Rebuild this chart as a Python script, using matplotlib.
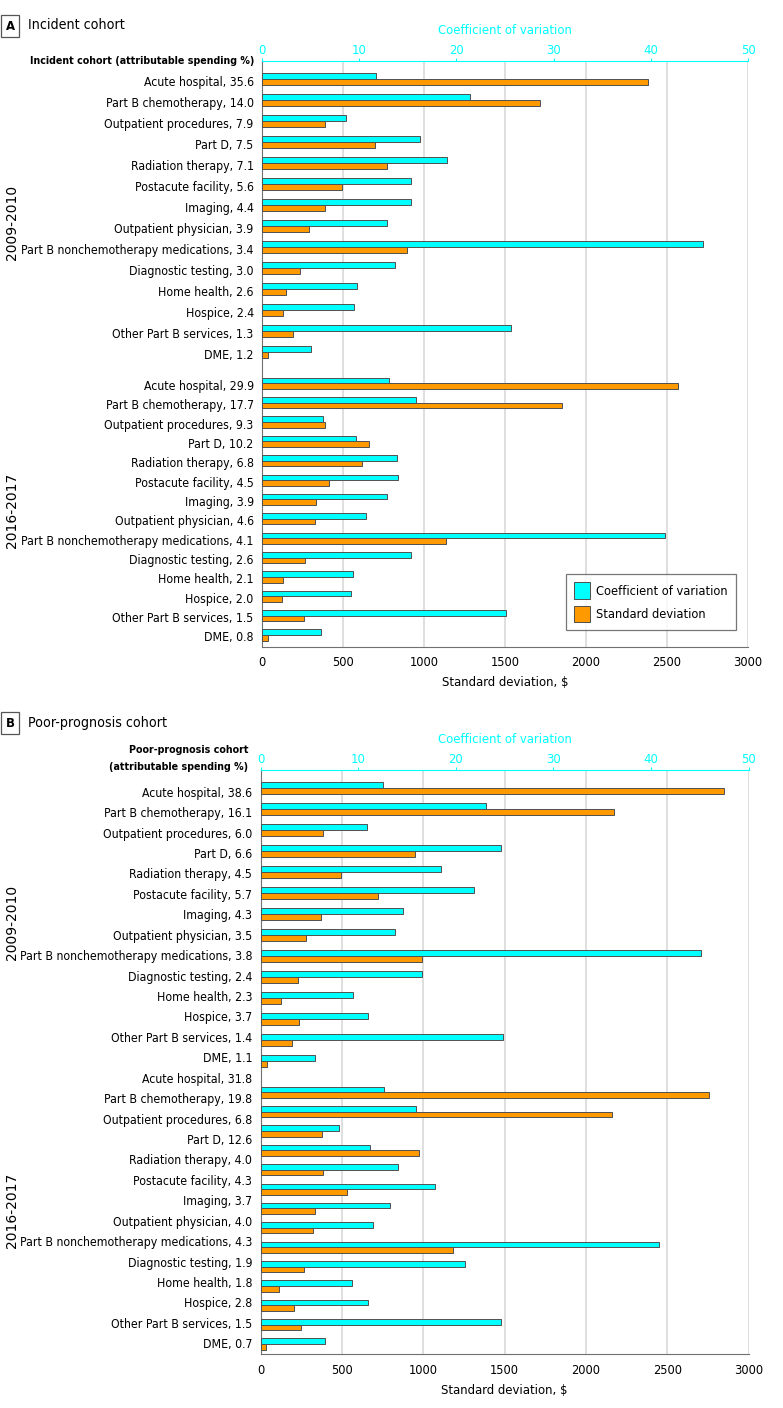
import matplotlib
matplotlib.use("Agg")
import matplotlib.pyplot as plt
from matplotlib.patches import Patch
from matplotlib import font_manager as fm
import numpy as np

# the original uses a condensed sans; take a condensed face if one is present
_cond = fm.findfont(fm.FontProperties(family="DejaVu Sans", stretch="condensed"))
if "Condensed" in _cond:
    plt.rcParams['font.family'] = ['DejaVu Sans']
    plt.rcParams['font.stretch'] = 'condensed'
    FS = 8.8
else:
    plt.rcParams['font.family'] = ['Liberation Sans', 'DejaVu Sans']
    FS = 8.5
FSB = FS - 1.1  # bold headers

W, H = 783, 1408

# --- data -----------------------------------------------------------------
categories = ["Acute hospital", "Part B chemotherapy", "Outpatient procedures", "Part D",
              "Radiation therapy", "Postacute facility", "Imaging", "Outpatient physician",
              "Part B nonchemotherapy medications", "Diagnostic testing", "Home health",
              "Hospice", "Other Part B services", "DME"]

# attributable spending %
pct_inc_0910 = [35.6, 14.0, 7.9, 7.5, 7.1, 5.6, 4.4, 3.9, 3.4, 3.0, 2.6, 2.4, 1.3, 1.2]
pct_inc_1617 = [29.9, 17.7, 9.3, 10.2, 6.8, 4.5, 3.9, 4.6, 4.1, 2.6, 2.1, 2.0, 1.5, 0.8]
pct_poor_0910 = [38.6, 16.1, 6.0, 6.6, 4.5, 5.7, 4.3, 3.5, 3.8, 2.4, 2.3, 3.7, 1.4, 1.1]
pct_poor_1617 = [31.8, 19.8, 6.8, 12.6, 4.0, 4.3, 3.7, 4.0, 4.3, 1.9, 1.8, 2.8, 1.5, 0.7]

# coefficient of variation
cv_inc_0910 = [11.7, 21.4, 8.6, 16.25, 19.0, 15.3, 15.3, 12.9, 45.4, 13.7, 9.8, 9.5, 25.6, 5.0]
cv_inc_1617 = [13.1, 15.85, 6.3, 9.7, 13.85, 13.95, 12.9, 10.7, 41.5, 15.3, 9.4, 9.2, 25.1, 6.1]
cv_poor_0910 = [12.6, 23.1, 10.9, 24.6, 18.5, 21.9, 14.65, 13.8, 45.1, 16.55, 9.5, 11.0, 24.8, 5.6]
cv_poor_1617 = [12.65, 15.9, 8.0, 11.2, 14.1, 17.9, 13.3, 11.5, 40.85, 20.95, 9.35, 11.0, 24.6, 6.6]

# standard deviation, $
sd_inc_0910 = [2385, 1714, 391, 698, 772, 495, 391, 292, 895, 237, 148, 132, 194, 40]
sd_inc_1617 = [2569, 1849, 391, 662, 618, 415, 335, 329, 1138, 268, 132, 126, 262, 34]
sd_poor_0910 = [2850, 2173, 384, 950, 495, 725, 369, 280, 993, 231, 129, 237, 194, 37]
sd_poor_1617 = [2757, 2161, 375, 974, 384, 529, 335, 320, 1184, 266, 111, 205, 247, 31]

CYAN = "#00FFFF"
ORANGE = "#FF9900"
EDGE = "#505050"
GRIDC = "#d9d9d9"

fig = plt.figure(figsize=(W / 100, H / 100), dpi=100)


def ftext(x, y, s, **kw):
    return fig.text(x / W, 1 - y / H, s, **kw)


# bar slots in pixel units measured from the top spine
n = len(categories)
pos_0910 = 18 + 21.0 * np.arange(n)
pos_1617 = 322.3 + 19.36 * np.arange(n)
bh = 5.6


def panel(top, bottom, left, right, cv_a, sd_a, cv_b, sd_b, label_pos, labels):
    axh = bottom - top
    ax = fig.add_axes([left / W, 1 - bottom / H, (right - left) / W, axh / H])
    ax2 = ax.twiny()
    pos = np.concatenate([pos_0910, pos_1617])
    cv = np.concatenate([cv_a, cv_b])
    sd = np.concatenate([sd_a, sd_b])
    ax2.barh(pos - bh / 2, cv, height=bh, color=CYAN, edgecolor=EDGE, linewidth=0.7, zorder=3)
    ax.barh(pos + bh / 2, sd, height=bh, color=ORANGE, edgecolor=EDGE, linewidth=0.7, zorder=3)
    ax.set_xlim(0, 3000)
    ax2.set_xlim(0, 50)
    ax.set_ylim(axh, 0)
    ax.set_xticks(np.arange(0, 3001, 500))
    ax.tick_params(axis='x', length=0, labelsize=FS + 0.4, pad=7)
    ax.set_xlabel("Standard deviation, $", fontsize=FS + 0.6, labelpad=5)
    for g in np.arange(500, 3001, 500):
        ax.axvline(g, color=GRIDC, lw=1.2, zorder=0)
    ax.set_yticks(label_pos)
    ax.set_yticklabels(labels, fontsize=FS)
    ax.tick_params(axis='y', length=0, pad=6)
    ax.spines["right"].set_visible(False)
    ax2.spines["right"].set_visible(False)
    ax.spines["left"].set_color("#707070")
    ax.spines["bottom"].set_color("#707070")
    ax.spines["top"].set_visible(False)
    ax2.spines["left"].set_visible(False)
    ax2.spines["bottom"].set_visible(False)
    ax2.spines["top"].set_color(CYAN)
    ax2.set_xticks(np.arange(0, 51, 10))
    ax2.tick_params(axis='x', colors=CYAN, labelcolor=CYAN, length=2, labelsize=FS + 0.6, pad=1)
    ax2.set_xlabel("Coefficient of variation", color=CYAN, fontsize=FS + 0.6, labelpad=7)
    return ax


# --- panel A ---------------------------------------------------------------
labels_a = [f"{c}, {p:.1f}" for c, p in zip(categories, pct_inc_0910)] + \
           [f"{c}, {p:.1f}" for c, p in zip(categories, pct_inc_1617)]
lpos_a = np.concatenate([pos_0910, pos_1617]) + 1.5
axA = panel(61, 646.5, 262, 748, cv_inc_0910, sd_inc_0910, cv_inc_1617, sd_inc_1617, lpos_a, labels_a)

handles = [Patch(facecolor=CYAN, edgecolor=EDGE, lw=0.7, label="Coefficient of variation"),
           Patch(facecolor=ORANGE, edgecolor=EDGE, lw=0.7, label="Standard deviation")]
leg = axA.legend(handles=handles, loc="upper right",
                 bbox_to_anchor=(736 / W, 1 - 574 / H), bbox_transform=fig.transFigure,
                 frameon=True, fancybox=False, fontsize=FS + 0.4, handlelength=1.2,
                 handleheight=1.6, borderpad=0.65, labelspacing=0.55, handletextpad=0.5,
                 borderaxespad=0)
leg.get_frame().set_edgecolor("#555555")
leg.get_frame().set_linewidth(0.9)

ftext(10, 26, "A", fontsize=FS + 0.6, fontweight="bold", ha="center", va="center",
      bbox=dict(boxstyle="square,pad=0.35", fc="white", ec="#555555", lw=0.9))
ftext(28, 25, "Incident cohort", fontsize=FS + 1.4, ha="left", va="center")
ftext(254, 61, "Incident cohort (attributable spending %)", fontsize=FSB,
      fontweight="bold", ha="right", va="center")
ftext(12, 222, "2009-2010", fontsize=10, rotation=90, ha="center", va="center",
      fontstretch="normal")
ftext(12, 510, "2016-2017", fontsize=10, rotation=90, ha="center", va="center",
      fontstretch="normal")

# --- panel B ---------------------------------------------------------------
labels_b = [f"{c}, {p:.1f}" for c, p in zip(categories, pct_poor_0910)] + \
           [f"{c}, {p:.1f}" for c, p in zip(categories, pct_poor_1617)]
lpos_b = 21.7 + 20.43 * np.arange(2 * n)
panel(770, 1354, 260.5, 748.5, cv_poor_0910, sd_poor_0910, cv_poor_1617, sd_poor_1617,
      lpos_b, labels_b)

ftext(10, 723, "B", fontsize=FS + 0.6, fontweight="bold", ha="center", va="center",
      bbox=dict(boxstyle="square,pad=0.35", fc="white", ec="#555555", lw=0.9))
ftext(28, 723, "Poor-prognosis cohort", fontsize=FS + 1.4, ha="left", va="center")
ftext(248, 750, "Poor-prognosis cohort", fontsize=FSB, fontweight="bold",
      ha="right", va="center")
ftext(248, 767, "(attributable spending %)", fontsize=FSB, fontweight="bold",
      ha="right", va="center")
ftext(12, 922, "2009-2010", fontsize=10, rotation=90, ha="center", va="center",
      fontstretch="normal")
ftext(12, 1210, "2016-2017", fontsize=10, rotation=90, ha="center", va="center",
      fontstretch="normal")

fig.savefig("out.png", dpi=100)
